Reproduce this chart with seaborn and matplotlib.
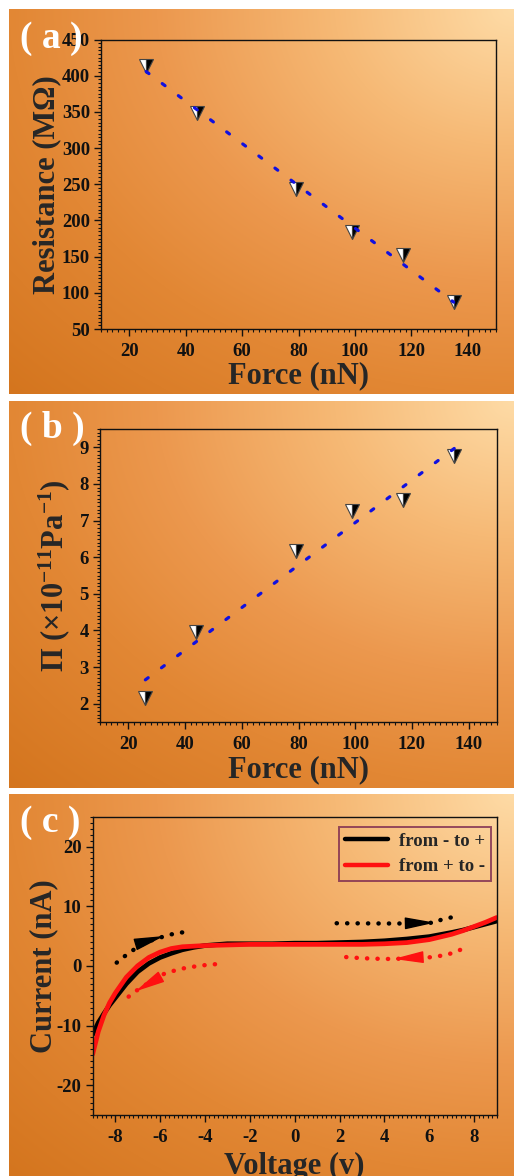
import numpy as np
import matplotlib
matplotlib.use("Agg")
import matplotlib.pyplot as plt
from matplotlib.ticker import MultipleLocator
from matplotlib.lines import Line2D
import seaborn as sns

# ---- data ----
# (a) and (b): force vs resistance / piezoresistive coefficient
force = [26, 44, 79, 99, 117, 135]
resistance = [414, 349, 243, 184, 152, 87]
pi_coef = [2.15, 3.95, 6.16, 7.27, 7.56, 8.77]

# (c): I-V sweeps
voltage = [-9, -8.75, -8.5, -8.25, -8, -7.5, -7, -6.5, -6, -5.5, -5, -4.5, -4, -3,
           -2, -1, 0, 1, 2, 3, 4, 5, 6, 7, 7.5, 8, 8.5, 9]
current_up = [-11.5, -9.5, -8.0, -6.6, -5.4, -3.0, -1.0, 0.4, 1.4, 2.1, 2.7, 3.1, 3.4, 3.7,
              3.7, 3.7, 3.8, 3.8, 3.9, 4.0, 4.2, 4.5, 4.9, 5.6, 6.0, 6.5, 7.0, 7.5]
current_down = [-14.8, -11.0, -8.3, -6.2, -4.6, -1.9, 0.0, 1.4, 2.3, 2.9, 3.2, 3.3, 3.4, 3.5,
                3.6, 3.6, 3.6, 3.6, 3.6, 3.6, 3.7, 3.9, 4.4, 5.3, 5.9, 6.6, 7.3, 8.1]

# dotted sweep-direction guides in (c)
guide_up_left_v = [-7.93, -7.68, -7.41, -7.15, -6.85, -6.3, -5.6, -5.29, -4.96, -4.63]
guide_up_left_i = [0.54, 1.37, 2.0, 2.78, 3.5, 4.4, 5.18, 5.46, 5.63, 5.68]
guide_up_right_v = [1.87, 3.0, 4.0, 5.0, 6.3, 6.5, 6.82, 7.11]
guide_up_right_i = [7.14, 7.12, 7.1, 7.1, 7.24, 7.69, 7.97, 8.25]
guide_dn_right_v = [7.37, 6.78, 6.03, 5.44, 4.4, 3.95, 3.06, 2.02]
guide_dn_right_i = [2.67, 1.83, 1.44, 1.3, 1.16, 1.16, 1.27, 1.54]
guide_dn_left_v = [-3.55, -4.22, -5.11, -5.8, -6.4, -7.11, -7.35, -7.56]
guide_dn_left_i = [0.27, 0.04, -0.52, -1.3, -2.6, -4.3, -5.0, -5.7]
# arrow heads: (tail, tip)
arrow_heads = [
    ((-6.67, 4.06), (-5.82, 5.0), "black"),
    ((5.06, 7.14), (6.25, 7.24), "black"),
    ((5.44, 1.4), (4.4, 1.16), "red"),
    ((-6.36, -2.7), (-7.11, -4.3), "red"),
]

sns.set_style("ticks")
plt.rcParams["font.family"] = ["Liberation Serif", "DejaVu Serif"]
plt.rcParams["font.weight"] = "bold"
plt.rcParams["axes.labelweight"] = "bold"
plt.rcParams["axes.unicode_minus"] = False
plt.rcParams["mathtext.fontset"] = "custom"
plt.rcParams["mathtext.rm"] = "Liberation Serif:bold"
plt.rcParams["mathtext.it"] = "Liberation Serif:bold"
plt.rcParams["mathtext.bf"] = "Liberation Serif:bold"

W, H = 514, 1176
fig = plt.figure(figsize=(W / 100, H / 100), dpi=100)
fig.patch.set_facecolor("white")


def px_rect(x0, y0, x1, y1):
    return [x0 / W, 1 - y1 / H, (x1 - x0) / W, (y1 - y0) / H]


# orange gradient panel background, light at the top-right corner
def add_background(rect):
    bg = fig.add_axes(rect, zorder=0)
    u = np.linspace(0, 1, 260)[None, :]
    v = np.linspace(0, 1, 200)[:, None]
    t = np.sqrt((1 - u) ** 2 + v ** 2) / np.sqrt(2)
    stops = [0, 0.25, 0.5, 0.707, 1.0]
    cols = np.array([[254, 219, 166], [246, 185, 117], [236, 152, 78],
                     [226, 135, 52], [212, 117, 30]]) / 255
    img = np.dstack([np.interp(t, stops, cols[:, k]) for k in range(3)])
    bg.imshow(img, aspect="auto", extent=[0, 1, 0, 1], interpolation="bilinear")
    bg.axis("off")


def style_axes(ax, xmaj, xmin, ymaj, ymin):
    ax.set_facecolor("none")
    for s in ax.spines.values():
        s.set_linewidth(1.0)
        s.set_color("#111111")
    ax.xaxis.set_major_locator(MultipleLocator(xmaj))
    ax.xaxis.set_minor_locator(MultipleLocator(xmin))
    ax.yaxis.set_major_locator(MultipleLocator(ymaj))
    ax.yaxis.set_minor_locator(MultipleLocator(ymin))
    ax.tick_params(which="both", direction="out", top=False, right=False,
                   colors="#111111", labelsize=13.5)
    ax.tick_params(which="major", length=5, width=1)
    ax.tick_params(which="minor", length=2.5, width=0.8)
    ax.tick_params(axis="x", pad=5)
    ax.tick_params(axis="y", pad=3)


def force_panel(rect, yvals, ylim, ymaj, ymin, ylabel):
    ax = fig.add_axes(rect, zorder=1)
    ax.plot(force, yvals, ls="none", marker="v", ms=10, fillstyle="left",
            markerfacecolor="white", markerfacecoloralt="black",
            markeredgecolor="#444444", mew=0.8, zorder=2)
    sns.regplot(x=force, y=yvals, ax=ax, scatter=False, ci=None, color="#1010e0",
                line_kws=dict(ls=(0, (1.1, 5.2)), lw=2.3, dash_capstyle="round", zorder=3))
    ax.set_xlim(10, 150)
    ax.set_ylim(*ylim)
    style_axes(ax, 20, 2, ymaj, ymin)
    ax.set_xlabel("Force (nN)", fontsize=22)
    ax.set_ylabel(ylabel, fontsize=22)
    return ax


# ---- (a) ----
add_background(px_rect(9, 9, 514, 394))
ax_a = force_panel(px_rect(101, 39.5, 496, 329), resistance, (50, 450), 50, 5,
                   "Resistance (MΩ)")
ax_a.xaxis.set_label_coords(0.5, -0.112)
ax_a.yaxis.set_label_coords(-0.1, 0.5)

# ---- (b) ----
add_background(px_rect(9, 401, 514, 788))
ax_b = force_panel(px_rect(100, 429, 497, 722), pi_coef, (1.5, 9.5), 1, 0.1,
                   "Π (×10$^{-11}$Pa$^{-1}$)")
ax_b.xaxis.set_label_coords(0.5, -0.112)
ax_b.yaxis.set_label_coords(-0.07, 0.5)

# ---- (c) ----
add_background(px_rect(9, 794, 514, 1176))
ax_c = fig.add_axes(px_rect(92.7, 816.7, 496.7, 1115), zorder=1)
sns.lineplot(x=voltage, y=current_up, ax=ax_c, color="black", lw=3.4, sort=False)
sns.lineplot(x=voltage, y=current_down, ax=ax_c, color="#ff1010", lw=3.4, sort=False)

dot_kw = dict(ls=(0, (0.05, 2.3)), lw=3.2, dash_capstyle="round")
ax_c.plot(guide_up_left_v, guide_up_left_i, color="black", **dot_kw)
ax_c.plot(guide_up_right_v, guide_up_right_i, color="black", **dot_kw)
ax_c.plot(guide_dn_right_v, guide_dn_right_i, color="#ff1010", **dot_kw)
ax_c.plot(guide_dn_left_v, guide_dn_left_i, color="#ff1010", **dot_kw)
for tail, tip, col in arrow_heads:
    ax_c.annotate("", xy=tip, xytext=tail,
                  arrowprops=dict(arrowstyle="-|>,head_length=1.1,head_width=0.22",
                                  mutation_scale=17,
                                  color="#ff1010" if col == "red" else "black",
                                  lw=1.0, shrinkA=0, shrinkB=0))

ax_c.set_xlim(-9, 9)
ax_c.set_ylim(-25, 25)
style_axes(ax_c, 2, 0.2, 10, 1)
ax_c.set_xlabel("Voltage (v)", fontsize=22)
ax_c.set_ylabel("Current (nA)", fontsize=22)
ax_c.xaxis.set_label_coords(0.5, -0.125)
ax_c.yaxis.set_label_coords(-0.085, 0.5)

handles = [Line2D([], [], color="black", lw=3.2), Line2D([], [], color="#ff1010", lw=3.2)]
leg = ax_c.legend(handles, ["from - to +", "from + to -"], loc="upper right",
                  bbox_to_anchor=(0.986, 0.966), borderaxespad=0, fancybox=False,
                  frameon=True, edgecolor="#7b2850", facecolor="none",
                  fontsize=13.5, handlelength=2.3, handletextpad=0.6,
                  borderpad=0.3, labelspacing=0.45)
leg.get_frame().set_linewidth(1.4)

# panel letters
for ytop, letter in [(38, "a"), (428, "b"), (822, "c")]:
    fig.text(20 / W, 1 - ytop / H, f"( {letter} )", color="white", fontsize=27,
             fontweight="bold", ha="left", va="center", zorder=5)

fig.savefig("out.png", dpi=100, facecolor="white")
